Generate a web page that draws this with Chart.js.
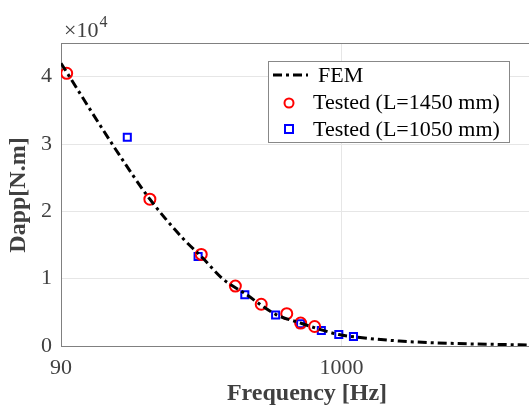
<!DOCTYPE html>
<html>
<head>
<meta charset="utf-8">
<script src="https://cdn.jsdelivr.net/npm/chart.js@4"></script>
<style>
  body { margin: 0; background: #fff; }
  #wrap { width: 529px; height: 406px; position: relative; }
</style>
</head>
<body>
<div id="wrap"><canvas id="dapp-chart"></canvas></div>
<script>
// FEM curve
const freqFEM = [90, 145, 193, 256, 300, 360, 436, 568, 704, 841, 977, 1120, 1644, 2520, 5000];
const dappFEM = [42000, 29000, 21800, 16000, 13300, 10000, 7800, 4700, 3400, 2400, 1700, 1350, 740, 400, 150];

// tested, L=1450 mm
const freq1450 = [94.5, 193, 300, 402, 502, 625, 704, 794];
const dapp1450 = [40500, 21800, 13600, 8900, 6200, 4800, 3400, 2900];

// tested, L=1050 mm
const freq1050 = [159, 292, 436, 568, 704, 841, 977, 1108];
const dapp1050 = [31000, 13300, 7600, 4600, 3300, 2300, 1700, 1400];

const xTicks = [90, 1000];
const yTicks = [0, 10000, 20000, 30000, 40000];

const seriesLabels = ["FEM", "Tested (L=1450 mm)", "Tested (L=1050 mm)"];

const toPoints = function (xs, ys) {
    return xs.map(function (x, i) { return { x: x, y: ys[i] }; });
};

const serif = "'Liberation Serif', 'Times New Roman', serif";
const axisGray = "#404040";

// extra drawing: top border, x10^4, axis titles, legend box
const extras = {
    id: "extras",
    afterDraw: function (chart) {
        const ctx = chart.ctx;
        const a = chart.chartArea;
        ctx.save();

        ctx.strokeStyle = "#808080";
        ctx.lineWidth = 1;
        ctx.beginPath();
        ctx.moveTo(a.left, a.top + 0.5);
        ctx.lineTo(a.right, a.top + 0.5);
        ctx.stroke();

        // exponent
        ctx.fillStyle = axisGray;
        ctx.textBaseline = "alphabetic";
        ctx.textAlign = "left";
        ctx.font = "22px " + serif;
        ctx.fillText("\u00d710", 64, 37);
        const w = ctx.measureText("\u00d710").width;
        ctx.font = "16px " + serif;
        ctx.fillText("4", 64 + w + 1, 27);

        // axis titles
        ctx.font = "bold 24px " + serif;
        ctx.textAlign = "center";
        ctx.textBaseline = "middle";
        ctx.fillText("Frequency [Hz]", 307, 394);
        ctx.save();
        ctx.translate(19, 195);
        ctx.rotate(-Math.PI / 2);
        ctx.fillText("Dapp[N.m]", 0, 0);
        ctx.restore();

        // legend
        ctx.fillStyle = "#fff";
        ctx.fillRect(268.5, 61.5, 241, 81);
        ctx.strokeStyle = "#888";
        ctx.strokeRect(268.5, 61.5, 241, 81);

        ctx.strokeStyle = "#000";
        ctx.lineWidth = 3;
        ctx.setLineDash([9, 4, 3, 4]);
        ctx.beginPath();
        ctx.moveTo(273, 75);
        ctx.lineTo(308, 75);
        ctx.stroke();
        ctx.setLineDash([]);

        ctx.lineWidth = 2;
        ctx.strokeStyle = "#ff0000";
        ctx.beginPath();
        ctx.arc(289, 103, 4.5, 0, Math.PI * 2);
        ctx.stroke();

        ctx.strokeStyle = "#0000ff";
        ctx.strokeRect(285, 125, 8, 8);

        ctx.fillStyle = "#000";
        ctx.font = "22px " + serif;
        ctx.textAlign = "left";
        ctx.textBaseline = "middle";
        ctx.fillText(seriesLabels[0], 318, 76);
        ctx.fillText(seriesLabels[1], 313, 103);
        ctx.fillText(seriesLabels[2], 313, 130);

        ctx.restore();
    }
};

new Chart("dapp-chart", {
    type: "scatter",
    data: {
        datasets: [
            {
                label: seriesLabels[0],
                data: toPoints(freqFEM, dappFEM),
                showLine: true,
                borderColor: "#000",
                borderWidth: 3,
                borderDash: [9, 4, 3, 4],
                cubicInterpolationMode: "monotone",
                pointRadius: 0,
                fill: false,
            },
            {
                label: seriesLabels[1],
                data: toPoints(freq1450, dapp1450),
                pointStyle: "circle",
                pointRadius: 5.5,
                borderColor: "#ff0000",
                backgroundColor: "rgba(0,0,0,0)",
                borderWidth: 2,
            },
            {
                label: seriesLabels[2],
                data: toPoints(freq1050, dapp1050),
                pointStyle: "rect",
                pointRadius: 5,
                borderColor: "#0000ff",
                backgroundColor: "rgba(0,0,0,0)",
                borderWidth: 2,
            },
        ]
    },
    options: {
        responsive: true,
        maintainAspectRatio: false,
        animation: false,
        layout: { autoPadding: false, padding: { top: 43, right: 0, left: 0, bottom: 0 } },
        plugins: {
            legend: { display: false },
            tooltip: { enabled: false },
        },
        scales: {
            x: {
                type: "logarithmic",
                min: 90,
                max: 5000,
                afterBuildTicks: function (scale) {
                    scale.ticks = xTicks.map(function (v) { return { value: v }; });
                },
                afterFit: function (scale) {
                    scale.height = 60;
                    scale.paddingLeft = 0;
                    scale.paddingRight = 0;
                },
                border: { color: "#808080" },
                grid: { color: "#e6e6e6", drawTicks: false },
                ticks: {
                    padding: 9,
                    color: axisGray,
                    maxRotation: 0,
                    font: { family: serif, size: 22 },
                    callback: function (v) { return String(v); },
                },
            },
            y: {
                min: 0,
                max: 45000,
                afterBuildTicks: function (scale) {
                    scale.ticks = yTicks.map(function (v) { return { value: v }; });
                },
                afterFit: function (scale) {
                    scale.width = 61;
                    scale.paddingTop = 0;
                    scale.paddingBottom = 0;
                },
                border: { color: "#808080" },
                grid: { color: "#e6e6e6", drawTicks: false },
                ticks: {
                    padding: 9,
                    color: axisGray,
                    font: { family: serif, size: 22 },
                    callback: function (v) { return String(v / 10000); },
                },
            },
        },
    },
    plugins: [extras],
});
</script>
</body>
</html>
